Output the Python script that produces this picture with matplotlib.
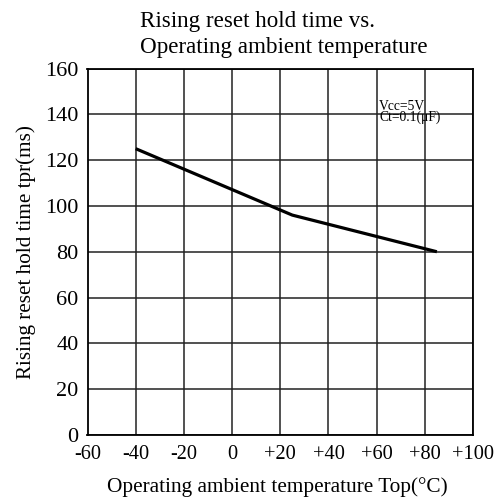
import numpy as np
import matplotlib.pyplot as plt

plt.rcParams['font.family'] = ['Liberation Serif', 'DejaVu Serif']

temps = [-40, 25, 85]
hold_times = [125, 96, 80]
xticks = [-60, -40, -20, 0, 20, 40, 60, 80, 100]
xtick_labels = ['-60', '-40', '-20', '0', '+20', '+40', '+60', '+80', '+100']
yticks = [0, 20, 40, 60, 80, 100, 120, 140, 160]

W = 499.0
fig = plt.figure(figsize=(4.99, 4.99), dpi=100)
ax = fig.add_axes([87.5/W, 1-435/W, (473-87.5)/W, (435-68.5)/W])

ax.plot(temps, hold_times, color='black', linewidth=2.3, solid_capstyle='butt')

ax.set_xlim(-60, 100)
ax.set_ylim(0, 160)
ax.set_xticks(xticks)
ax.set_xticklabels(xtick_labels)
ax.set_yticks(yticks)
ax.grid(True, color='#222222', linewidth=1.1)
ax.tick_params(axis='x', length=0, labelsize=14.7, pad=7)
ax.tick_params(axis='y', length=0, labelsize=16, pad=6.5)
for s in ax.spines.values():
    s.set_linewidth(1.3)

# condition note (one text, two tight lines)
fig.text(379/W, 1-120.5/W, 'Vcc=5V\nCt=0.1(\u03bcF)', fontsize=9.8,
         ha='left', va='baseline', linespacing=0.75)

# title, left aligned
fig.text(140/W, 1-27/W, 'Rising reset hold time vs.', fontsize=16.6, ha='left', va='baseline')
fig.text(140/W, 1-53/W, 'Operating ambient temperature', fontsize=16.6, ha='left', va='baseline')

ax.set_xlabel('Operating ambient temperature Top(\u00b0C)', fontsize=15.3, va='baseline')
ax.xaxis.set_label_coords((277-87.5)/385.5, -57/366.5)
ax.set_ylabel('Rising reset hold time tpr(ms)', fontsize=15.2)
ax.yaxis.set_label_coords((36-87.5)/385.5, 0.5)

fig.savefig('out.png', dpi=100)
